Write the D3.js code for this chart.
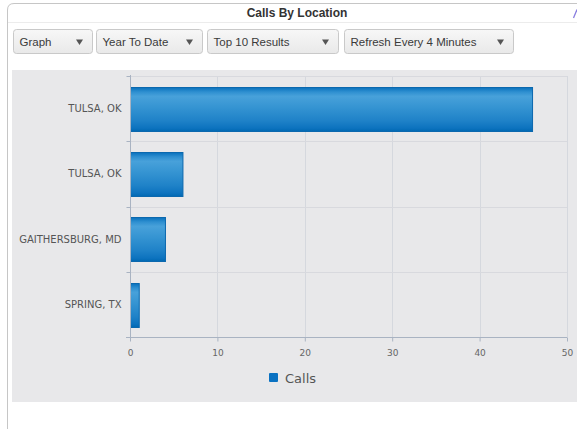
<!DOCTYPE html>
<html><head><meta charset="utf-8">
<script src="https://cdn.jsdelivr.net/npm/d3@7"></script>
<style>
html,body{margin:0;padding:0;background:#fff;overflow:hidden;}
svg{display:block;}
</style></head>
<body>
<svg id="c" width="577" height="429"></svg>
<script>
const title = "Calls By Location";
const controls = ["Graph", "Year To Date", "Top 10 Results", "Refresh Every 4 Minutes"];
const categories = ["TULSA, OK", "TULSA, OK", "GAITHERSBURG, MD", "SPRING, TX"];
const calls = [46, 6, 4, 1];
const xTicks = [0, 10, 20, 30, 40, 50];
const seriesName = "Calls";

const svg = d3.select("#c");
const W = 577, H = 429;

// outer panel
svg.append("path")
  .attr("d", `M7.5,${H} L7.5,10 Q7.5,3.5 14,3.5 L${W},3.5`)
  .attr("fill", "none").attr("stroke", "#c6c6c6");
svg.append("line").attr("x1", 8).attr("x2", W).attr("y1", 22.5).attr("y2", 22.5)
  .attr("stroke", "#ececec");
svg.append("text").attr("x", 297).attr("y", 16.5).attr("text-anchor", "middle")
  .attr("font-family", "Liberation Sans, Arial, sans-serif").attr("font-weight", "bold")
  .attr("font-size", 12).attr("fill", "#333").text(title);
// partially visible header icon at the right edge
svg.append("path").attr("d", "M573.5,18 L577,9.5")
  .attr("stroke", "#8a7fe0").attr("stroke-width", 1.3).attr("fill", "none");

// dropdowns
const defs = svg.append("defs");
const bg = defs.append("linearGradient").attr("id", "ddg").attr("x1", 0).attr("y1", 0).attr("x2", 0).attr("y2", 1);
bg.append("stop").attr("offset", "0%").attr("stop-color", "#f7f7f7");
bg.append("stop").attr("offset", "100%").attr("stop-color", "#e9e9e9");
const boxes = [[13.5, 92.5], [96.5, 202.5], [207.5, 338.5], [344.5, 513.5]];
controls.forEach((t, i) => {
  const [x0, x1] = boxes[i];
  const g = svg.append("g");
  g.append("rect").attr("x", x0).attr("y", 29.5).attr("width", x1 - x0).attr("height", 24)
    .attr("rx", 3).attr("fill", "url(#ddg)").attr("stroke", "#c9c9c9");
  g.append("text").attr("x", x0 + 6).attr("y", 45.5)
    .attr("font-family", "Liberation Sans, Arial, sans-serif").attr("font-size", 11.5)
    .attr("fill", "#3a3a3a").text(t);
  g.append("path").attr("transform", `translate(${x1 - 13},${42})`)
    .attr("d", "M-3.5,-2.5 L3.5,-2.5 L0,3 Z").attr("fill", "#555");
});

// chart area
svg.append("rect").attr("x", 12).attr("y", 70).attr("width", W - 12).attr("height", 332)
  .attr("fill", "#e8e8ea");

const x = d3.scaleLinear().domain([0, 50]).range([130, 567]);
const idx = categories.map((d, i) => i);
const y = d3.scaleBand().domain(idx).range([76, 337]).paddingInner(0.33).paddingOuter(0.165);
const step = y.step();

// bar gradient
const gr = defs.append("linearGradient").attr("id", "barg").attr("x1", 0).attr("y1", 0).attr("x2", 0).attr("y2", 1);
[["0%", "#0870bc"], ["10%", "#2e8fd0"], ["20%", "#48a1da"], ["45%", "#3594d2"], ["75%", "#1f82c8"], ["92%", "#0d73bf"], ["100%", "#0068b2"]]
  .forEach(([o, c]) => gr.append("stop").attr("offset", o).attr("stop-color", c));

// gridlines
const grid = svg.append("g");
xTicks.forEach(t => {
  grid.append("line").attr("x1", Math.round(x(t)) + 0.5).attr("x2", Math.round(x(t)) + 0.5)
    .attr("y1", 76).attr("y2", 337).attr("stroke", "#d5d8de");
});
const bounds = idx.map(i => 76 + i * step);
bounds.forEach(b => {
  grid.append("line").attr("x1", 130).attr("x2", 567).attr("y1", Math.round(b) + 0.5).attr("y2", Math.round(b) + 0.5)
    .attr("stroke", "#d8d9de");
});

// bars
svg.append("g").selectAll("rect").data(calls).join("rect")
  .attr("x", x(0) + 0.5)
  .attr("y", (d, i) => Math.round(y(i)) + 0.5)
  .attr("width", d => x(d) - x(0))
  .attr("height", Math.round(y.bandwidth()))
  .attr("fill", "url(#barg)").attr("stroke", "#0b68ae").attr("stroke-width", 1);

// x axis
const xAxis = svg.append("g").attr("transform", "translate(0,337.5)")
  .call(d3.axisBottom(x).tickValues(xTicks).tickSize(4).tickSizeOuter(0).tickPadding(8));
xAxis.select(".domain").remove();
xAxis.append("line").attr("x1", 126).attr("x2", 567).attr("y1", 0).attr("y2", 0).attr("stroke", "#a9b3c2");
xAxis.selectAll(".tick line").attr("stroke", "#a9b3c2");
xAxis.selectAll(".tick text").attr("font-family", "DejaVu Sans, sans-serif").attr("font-size", 9).attr("fill", "#666");

// y axis
const yAxis = svg.append("g").attr("transform", "translate(130.5,0)");
yAxis.append("line").attr("x1", 0).attr("x2", 0).attr("y1", 75).attr("y2", 341).attr("stroke", "#a9b3c2");
yAxis.selectAll("line.tk").data(bounds).join("line").attr("class", "tk")
  .attr("x1", -4).attr("x2", 0).attr("y1", d => Math.round(d) + 0.5).attr("y2", d => Math.round(d) + 0.5)
  .attr("stroke", "#a9b3c2");
yAxis.selectAll("text").data(categories).join("text")
  .attr("x", -9).attr("y", (d, i) => y(i) + y.bandwidth() / 2 + 3.5)
  .attr("text-anchor", "end").attr("font-family", "DejaVu Sans, sans-serif").attr("font-size", 10)
  .attr("fill", "#555").text(d => d);

// legend
const lg = svg.append("g");
lg.append("rect").attr("x", 269).attr("y", 373).attr("width", 9).attr("height", 9).attr("rx", 1).attr("fill", "#0a72c2");
lg.append("text").attr("x", 285).attr("y", 382.5)
  .attr("font-family", "DejaVu Sans, sans-serif").attr("font-size", 13).attr("fill", "#555").text(seriesName);
</script>
</body></html>
